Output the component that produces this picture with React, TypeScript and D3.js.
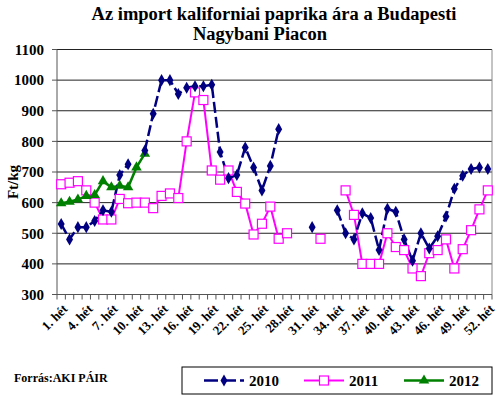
import React from "react";
import * as d3 from "d3";

const weeks: number[] = d3.range(1, 53);
const tickWeeks = [1, 4, 7, 10, 13, 16, 19, 22, 25, 28, 31, 34, 37, 40, 43, 46, 49, 52];
const tickLabels = ["1. hét", "4. hét", "7. hét", "10. hét", "13. hét", "16. hét", "19. hét", "22. hét", "25. hét", "28.hét", "31. hét", "34. hét", "37. hét", "40. hét", "43. hét", "46. hét", "49. hét", "52. hét"];
const yTicks = [300, 400, 500, 600, 700, 800, 900, 1000, 1100];

const s2010: (number | null)[] = [
  530, 480, 520, 520, 540, 575, 570, 690, 725, null,
  770, 890, 1000, 1000, 955, 975, 980, 980, 985, 765,
  680, 690, 780, 715, 640, 720, 840, null, null, null,
  520, null, null, 575, 500, 480, 565, 550, 445, 580,
  570, 480, 410, 500, 450, 490, 555, 645, 688, 710,
  715, 710,
];
const s2011: (number | null)[] = [
  660, 665, 670, 640, 600, 545, 545, 612, 598, 600,
  600, 582, 622, 630, 615, 800, 960, 935, 705, 675,
  705, 635, 597, 496, 531, 587, 482, 500, null, null,
  null, 482, null, null, 640, 560, 400, 400, 400, 500,
  455, 445, 385, 360, 435, 445, 480, 385, 448, 510,
  578, 640,
];
const s2012: (number | null)[] = [
  598, 603, 610, 622, 625, 670, 650, 655, 650, 715,
  760, null, null, null, null, null, null, null, null, null,
  null, null, null, null, null, null, null, null, null, null,
  null, null, null, null, null, null, null, null, null, null,
  null, null, null, null, null, null, null, null, null, null,
  null, null,
];
const seriesNames = ["2010", "2011", "2012"];

const W = 500, H = 398;
const L = 57, R = 492, T = 49.5, B = 294.5;
const FONT = "'Liberation Serif', 'Times New Roman', serif";
const C2010 = "#000080", C2011 = "#FF00FF", C2012 = "#008000";

export default function App() {
  const x = d3.scaleBand<number>().domain(weeks).range([L, R]);
  const y = d3.scaleLinear().domain([300, 1100]).range([B, T]);
  const cx = (w: number) => (x(w) as number) + x.bandwidth() / 2;

  const line = d3
    .line<number | null>()
    .defined((d) => d != null)
    .x((_, i) => cx(weeks[i]))
    .y((d) => y(d as number));

  const pts = (s: (number | null)[]) =>
    s.map((v, i) => ({ v, w: weeks[i] })).filter((p) => p.v != null) as { v: number; w: number }[];

  const diamond = d3.symbol(d3.symbolDiamond, 42)()!;
  const tri = d3.symbol(d3.symbolTriangle, 48)()!;

  const bounds = x.domain().map((w) => x(w) as number).concat([R]);

  return (
    <svg width={W} height={H} style={{ display: "block", position: "absolute", left: 0, top: 0 }} fontFamily={FONT}>
      <rect width={W} height={H} fill="#fff" />
      {/* title */}
      <text x={274} y={20} textAnchor="middle" fontWeight="bold" fontSize={18.5}>Az import kaliforniai paprika ára a Budapesti</text>
      <text x={260} y={40} textAnchor="middle" fontWeight="bold" fontSize={18.5}>Nagybani Piacon</text>

      {/* grid */}
      {yTicks.map((t) => (
        <line key={t} x1={L} x2={R} y1={y(t)} y2={y(t)} stroke="#222" strokeWidth={1} />
      ))}
      <line x1={R} x2={R} y1={T} y2={B} stroke="#888" strokeWidth={1} />
      {/* axes */}
      <line x1={L} x2={L} y1={T} y2={B} stroke="#555" strokeWidth={1} />
      <line x1={L} x2={R} y1={B} y2={B} stroke="#555" strokeWidth={1} />
      {yTicks.map((t) => (
        <g key={"yt" + t}>
          <line x1={L - 5} x2={L} y1={y(t)} y2={y(t)} stroke="#555" />
          <text x={44} y={y(t)} dy="0.35em" textAnchor="end" fontWeight="bold" fontSize={15}>{t}</text>
        </g>
      ))}
      {bounds.map((bx, i) => (
        <line key={"xt" + i} x1={bx} x2={bx} y1={B} y2={B + 5} stroke="#555" />
      ))}
      {tickWeeks.map((w, i) => (
        <text key={"xl" + w} transform={`translate(${cx(w) + 4},${B + 12}) rotate(-45)`} textAnchor="end" dy="0.35em" fontWeight="bold" fontSize={13}>
          {tickLabels[i]}
        </text>
      ))}
      <text transform={`translate(18,${(T + B) / 2 + 10}) rotate(-90)`} textAnchor="middle" fontWeight="bold" fontSize={15}>Ft/kg</text>

      {/* series */}
      <path d={line(s2011) || ""} fill="none" stroke={C2011} strokeWidth={2} />
      <path d={line(s2012) || ""} fill="none" stroke={C2012} strokeWidth={2.5} />
      <path d={line(s2010) || ""} fill="none" stroke={C2010} strokeWidth={2.5} strokeDasharray="11,4" />
      {pts(s2011).map((p) => (
        <rect key={"b" + p.w} x={cx(p.w) - 4.5} y={y(p.v) - 4.5} width={9} height={9} fill="#fff" stroke={C2011} strokeWidth={1.2} />
      ))}
      {pts(s2012).map((p) => (
        <path key={"c" + p.w} d={tri} transform={`translate(${cx(p.w)},${y(p.v)})`} fill={C2012} />
      ))}
      {pts(s2010).map((p) => (
        <path key={"a" + p.w} d={diamond} transform={`translate(${cx(p.w)},${y(p.v)})`} fill={C2010} />
      ))}

      {/* source */}
      <text x={14} y={382} fontWeight="bold" fontSize={12}>Forrás:AKI PÁIR</text>

      {/* legend */}
      <rect x={182} y={367} width={310} height={27} fill="#fff" stroke="#000" strokeWidth={1} />
      {seriesNames.map((n, i) => {
        const lx = 204 + i * 100;
        const ly = 380.5;
        return (
          <g key={n}>
            {i === 0 && (
              <>
                <line x1={lx} x2={lx + 40} y1={ly} y2={ly} stroke={C2010} strokeWidth={2.5} strokeDasharray="14,4" />
                <path d={diamond} transform={`translate(${lx + 20},${ly})`} fill={C2010} />
              </>
            )}
            {i === 1 && (
              <>
                <line x1={lx} x2={lx + 40} y1={ly} y2={ly} stroke={C2011} strokeWidth={2} />
                <rect x={lx + 15.5} y={ly - 4.5} width={9} height={9} fill="#fff" stroke={C2011} strokeWidth={1.2} />
              </>
            )}
            {i === 2 && (
              <>
                <line x1={lx} x2={lx + 40} y1={ly} y2={ly} stroke={C2012} strokeWidth={2.5} />
                <path d={tri} transform={`translate(${lx + 20},${ly})`} fill={C2012} />
              </>
            )}
            <text x={lx + 45} y={ly} dy="0.35em" fontWeight="bold" fontSize={15}>{n}</text>
          </g>
        );
      })}
    </svg>
  );
}
